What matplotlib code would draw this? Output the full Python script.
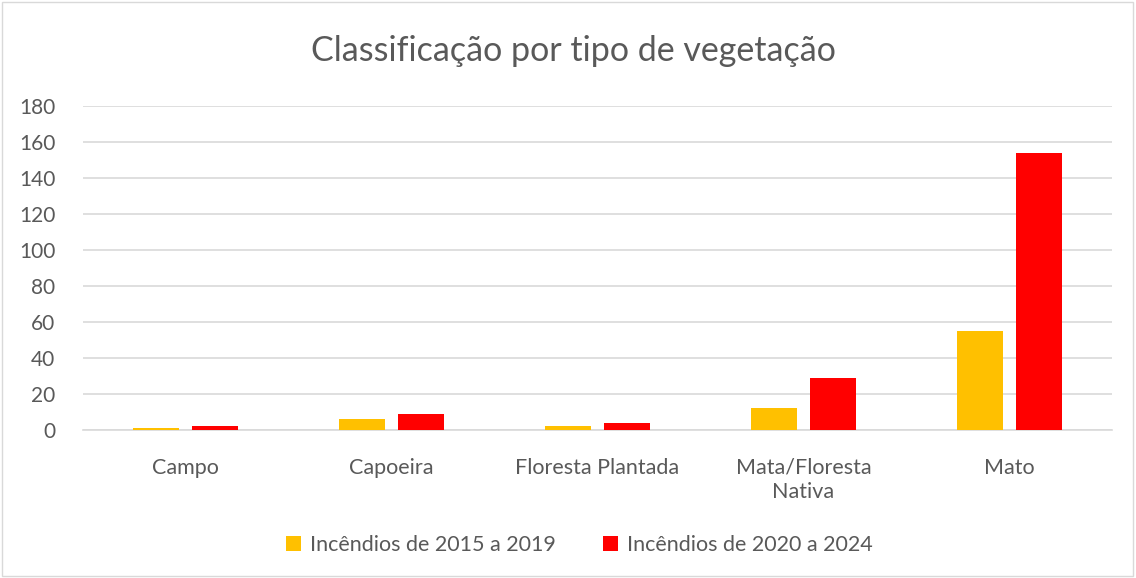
import matplotlib.pyplot as plt
import numpy as np
from matplotlib.patches import Rectangle

plt.rcParams['font.family'] = ['Lato', 'DejaVu Sans']

# Data
categorias = ['Campo', 'Capoeira', 'Floresta Plantada', 'Mata/Floresta\nNativa', 'Mato']
incendios_2015_2019 = [1, 6, 2, 12, 55]
incendios_2020_2024 = [2, 9, 4, 29, 154]
legenda = ['Incêndios de 2015 a 2019', 'Incêndios de 2020 a 2024']
yticks = [0, 20, 40, 60, 80, 100, 120, 140, 160, 180]

cor_amarela = '#FFC000'
cor_vermelha = '#FF0000'
cor_texto = '#595959'

fig = plt.figure(figsize=(11.36, 5.78), dpi=100)
ax = fig.add_axes([0.073, 0.256, 0.906, 0.561])

x = np.arange(len(categorias))
largura = 0.223
ax.bar(x - 0.143, incendios_2015_2019, largura, color=cor_amarela, label=legenda[0], zorder=3)
ax.bar(x + 0.143, incendios_2020_2024, largura, color=cor_vermelha, label=legenda[1], zorder=3)

ax.set_xlim(-0.5, len(categorias) - 0.5)
ax.set_ylim(0, 180)
ax.set_yticks(yticks)
ax.set_xticks(x)
ax.set_xticklabels(categorias, fontsize=15.5, color=cor_texto, linespacing=1.25)
ax.tick_params(axis='y', labelsize=15, labelcolor=cor_texto, length=0, pad=20)
ax.tick_params(axis='x', length=0, pad=20)
ax.grid(axis='y', color='#d9d9d9', linewidth=1.2, zorder=0)
for s in ['top', 'right', 'left']:
    ax.spines[s].set_visible(False)
ax.spines['bottom'].set_color('#d9d9d9')
ax.spines['bottom'].set_linewidth(1.2)

fig.text(0.505, 0.912, 'Classificação por tipo de vegetação', ha='center', va='center',
         fontsize=24.5, color=cor_texto)

fig.legend(loc='center', bbox_to_anchor=(0.51, 0.057), ncol=2, frameon=False,
           fontsize=15.5, labelcolor=cor_texto, handlelength=0.7, handleheight=0.7,
           handletextpad=0.4, columnspacing=2.2)

fig.patches.append(Rectangle((0.002, 0.003), 0.995, 0.994, transform=fig.transFigure,
                             fill=False, edgecolor='#d9d9d9', linewidth=1))

plt.savefig('out.png', dpi=100)
